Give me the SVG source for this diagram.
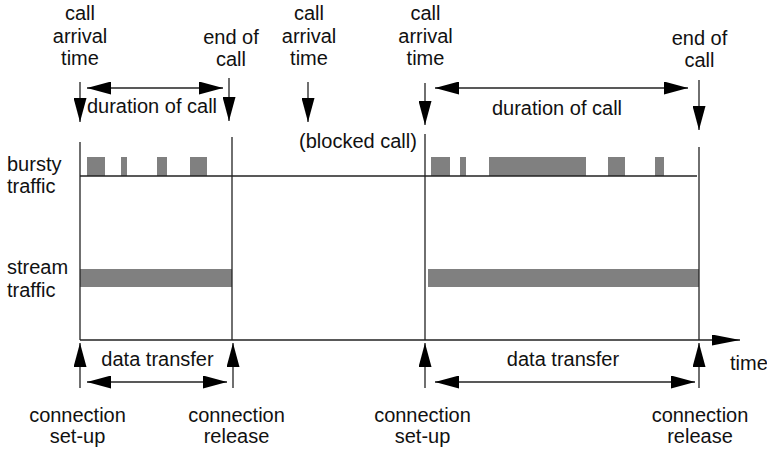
<svg xmlns="http://www.w3.org/2000/svg" width="767" height="452" viewBox="0 0 767 452">
<style>
text{font-family:"Liberation Sans",Arial,Helvetica,sans-serif;font-size:20px;fill:#111}
.c{text-anchor:middle}
.ln{stroke:#222;stroke-width:1.3;fill:none}
.bar{fill:#808080}
</style>
<defs>
<marker id="ah" viewBox="0 0 24 13" refX="24" refY="6.5" markerWidth="24" markerHeight="13" markerUnits="userSpaceOnUse" orient="auto-start-reverse">
<path d="M0,0 L24,6.5 L0,13 z" fill="#000"/>
</marker>
<marker id="ax" viewBox="0 0 28 11" refX="28" refY="5.5" markerWidth="28" markerHeight="11" markerUnits="userSpaceOnUse" orient="auto">
<path d="M0,0 L28,5.5 L0,11 z" fill="#000"/>
</marker>
</defs>
<g id="traffic">
<g id="bursty">
<rect class="bar" x="87" y="157" width="18" height="19"/>
<rect class="bar" x="121" y="157" width="6" height="19"/>
<rect class="bar" x="157" y="157" width="10" height="19"/>
<rect class="bar" x="190" y="157" width="17" height="19"/>
<rect class="bar" x="431" y="157" width="19" height="19"/>
<rect class="bar" x="460" y="157" width="6" height="19"/>
<rect class="bar" x="489" y="157" width="97" height="19"/>
<rect class="bar" x="608" y="157" width="17" height="19"/>
<rect class="bar" x="655" y="157" width="9" height="19"/>
</g>
<g id="stream">
<rect class="bar" x="80" y="269" width="152" height="18"/>
<rect class="bar" x="428" y="269" width="271" height="18"/>
</g>
</g>
<g id="connectors">
<line class="ln" x1="80" y1="176" x2="697" y2="176"/>
<line class="ln" x1="80" y1="142" x2="80" y2="340"/>
<line class="ln" x1="232" y1="137" x2="232" y2="340"/>
<line class="ln" x1="425" y1="134" x2="425" y2="340"/>
<line class="ln" x1="699" y1="147" x2="699" y2="340"/>
<line class="ln" x1="80" y1="340" x2="740" y2="340" marker-end="url(#ax)"/>
<line class="ln" x1="80" y1="82" x2="80" y2="122" marker-end="url(#ah)"/>
<line class="ln" x1="229" y1="78" x2="229" y2="121" marker-end="url(#ah)"/>
<line class="ln" x1="308" y1="82" x2="308" y2="122" marker-end="url(#ah)"/>
<line class="ln" x1="425" y1="83" x2="425" y2="125" marker-end="url(#ah)"/>
<line class="ln" x1="699" y1="80" x2="699" y2="130" marker-end="url(#ah)"/>
<line class="ln" x1="87" y1="88" x2="223" y2="88" marker-start="url(#ah)" marker-end="url(#ah)"/>
<line class="ln" x1="435" y1="88" x2="688" y2="88" marker-start="url(#ah)" marker-end="url(#ah)"/>
<line class="ln" x1="80" y1="388" x2="80" y2="343" marker-end="url(#ah)"/>
<line class="ln" x1="233" y1="388" x2="233" y2="343" marker-end="url(#ah)"/>
<line class="ln" x1="425" y1="388" x2="425" y2="343" marker-end="url(#ah)"/>
<line class="ln" x1="699" y1="388" x2="699" y2="343" marker-end="url(#ah)"/>
<line class="ln" x1="87" y1="382" x2="227" y2="382" marker-start="url(#ah)" marker-end="url(#ah)"/>
<line class="ln" x1="435" y1="382" x2="695" y2="382" marker-start="url(#ah)" marker-end="url(#ah)"/>
</g>
<g id="labels">
<g id="arrival1"><text class="c" x="80" y="20">call</text><text class="c" x="80" y="42.5">arrival</text><text class="c" x="80" y="65">time</text></g>
<g id="end1"><text class="c" x="231" y="44">end of</text><text class="c" x="231" y="66">call</text></g>
<g id="arrival2"><text class="c" x="309" y="20">call</text><text class="c" x="309" y="42.5">arrival</text><text class="c" x="309" y="65">time</text></g>
<g id="arrival3"><text class="c" x="425.5" y="20">call</text><text class="c" x="425.5" y="42.5">arrival</text><text class="c" x="425.5" y="65">time</text></g>
<g id="end2"><text class="c" x="699.5" y="45">end of</text><text class="c" x="699.5" y="66.5">call</text></g>
<text id="dur1" class="c" x="152" y="112.5">duration of call</text>
<text id="dur2" class="c" x="557" y="115">duration of call</text>
<text id="blocked" class="c" x="358" y="148">(blocked call)</text>
<g id="bursty-label"><text x="7" y="170.5">bursty</text><text x="7" y="192.5">traffic</text></g>
<g id="stream-label"><text x="7" y="274">stream</text><text x="7" y="296.5">traffic</text></g>
<text id="dt1" class="c" x="157.5" y="366">data transfer</text>
<text id="dt2" class="c" x="563" y="366">data transfer</text>
<text id="time" x="730" y="370">time</text>
<g id="setup1"><text class="c" x="77.5" y="422">connection</text><text class="c" x="77.5" y="443">set-up</text></g>
<g id="release1"><text class="c" x="236.5" y="422">connection</text><text class="c" x="236.5" y="443">release</text></g>
<g id="setup2"><text class="c" x="422.5" y="422">connection</text><text class="c" x="422.5" y="443">set-up</text></g>
<g id="release2"><text class="c" x="700" y="422">connection</text><text class="c" x="700" y="443">release</text></g>
</g>
</svg>
